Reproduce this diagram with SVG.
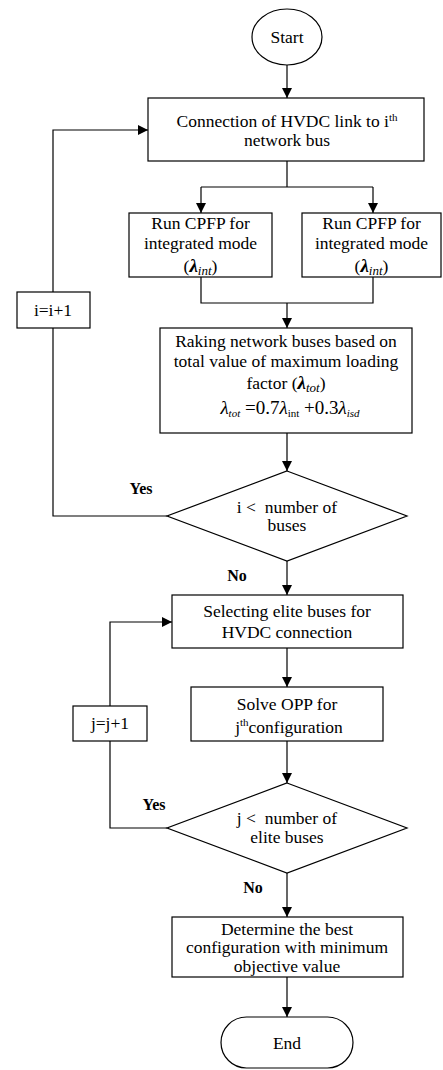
<svg xmlns="http://www.w3.org/2000/svg" width="443" height="1070" viewBox="0 0 443 1070">
<defs>
<style>
.b{fill:#fff;stroke:#000;stroke-width:1.2}
.l{fill:none;stroke:#000;stroke-width:1.2}
.t{font-family:"Liberation Serif","Times New Roman",serif;font-size:17.5px;fill:#000;text-anchor:middle}
.y{font-family:"Liberation Serif","Times New Roman",serif;font-size:16px;font-weight:bold;fill:#000;text-anchor:middle}
.s{font-size:11px}
.i{font-style:italic}
</style>
<marker id="a" viewBox="0 0 10 10" refX="10" refY="5" markerWidth="10" markerHeight="10" markerUnits="userSpaceOnUse" orient="auto">
<path d="M0,0 L10,5 L0,10 z" fill="#000"/>
</marker>
</defs>
<g id="connectors">
<path class="l" d="M287,65 V98" marker-end="url(#a)"/>
<path class="l" d="M287,161 V187 M201,187 H373"/>
<path class="l" d="M201,187 V213" marker-end="url(#a)"/>
<path class="l" d="M373,187 V213" marker-end="url(#a)"/>
<path class="l" d="M201,277 V303 H373 V277"/>
<path class="l" d="M287,303 V328" marker-end="url(#a)"/>
<path class="l" d="M287,433 V471" marker-end="url(#a)"/>
<path class="l" d="M167,516 H53 V328"/>
<path class="l" d="M53,292 V130 H148" marker-end="url(#a)"/>
<path class="l" d="M287,561 V595" marker-end="url(#a)"/>
<path class="l" d="M287,648 V687" marker-end="url(#a)"/>
<path class="l" d="M287,741 V783" marker-end="url(#a)"/>
<path class="l" d="M167,828 H110 V741"/>
<path class="l" d="M110,706 V622 H172" marker-end="url(#a)"/>
<path class="l" d="M287,873 V917" marker-end="url(#a)"/>
<path class="l" d="M287,977 V1017" marker-end="url(#a)"/>
</g>
<g id="start">
<ellipse class="b" cx="287" cy="37" rx="35" ry="28"/>
<text class="t" x="287" y="43">Start</text>
</g>
<g id="connect">
<rect class="b" x="148" y="98" width="276" height="63"/>
<text class="t" x="287" y="127">Connection of HVDC link to i<tspan class="s" dy="-6">th</tspan></text>
<text class="t" x="287" y="146">network bus</text>
</g>
<g id="cpfp1">
<rect class="b" x="129" y="213" width="143" height="64"/>
<text class="t" x="200.5" y="229">Run CPFP for</text>
<text class="t" x="200.5" y="249">integrated mode</text>
<text class="t" x="200.5" y="272">(<tspan class="i" font-weight="bold" font-size="19">λ</tspan><tspan class="i" font-size="13" dy="3">int</tspan><tspan dy="-3">)</tspan></text>
</g>
<g id="cpfp2">
<rect class="b" x="302" y="213" width="139" height="64"/>
<text class="t" x="371.5" y="229">Run CPFP for</text>
<text class="t" x="371.5" y="249">integrated mode</text>
<text class="t" x="371.5" y="272">(<tspan class="i" font-weight="bold" font-size="19">λ</tspan><tspan class="i" font-size="13" dy="3">int</tspan><tspan dy="-3">)</tspan></text>
</g>
<g id="raking">
<rect class="b" x="160" y="328" width="252" height="105"/>
<text class="t" x="286" y="347">Raking network buses based on</text>
<text class="t" x="286" y="367">total value of maximum loading</text>
<text class="t" x="286" y="389">factor (<tspan class="i" font-weight="bold" font-size="19">λ</tspan><tspan class="i" font-size="13" dy="3">tot</tspan><tspan dy="-3">)</tspan></text>
<text class="t" x="290" y="414"><tspan class="i" font-size="19">λ</tspan><tspan class="i" font-size="11" dy="3">tot</tspan><tspan dy="-3" font-size="19"> =0.7</tspan><tspan class="i" font-size="19">λ</tspan><tspan font-size="11" dy="3">int</tspan><tspan dy="-3" font-size="19"> +0.3</tspan><tspan class="i" font-size="19">λ</tspan><tspan class="i" font-size="11" dy="3">isd</tspan></text>
</g>
<g id="dec1">
<polygon class="b" points="287,471 407,516 287,561 167,516"/>
<text class="t" x="287" y="513">i &lt;&#160; number of</text>
<text class="t" x="287" y="531">buses</text>
</g>
<g id="inc-i">
<rect class="b" x="17" y="292" width="73" height="36"/>
<text class="t" x="53" y="316">i=i+1</text>
</g>
<g id="labels">
<text class="y" x="141" y="494">Yes</text>
<text class="y" x="237" y="581">No</text>
<text class="y" x="154" y="810">Yes</text>
<text class="y" x="253" y="893">No</text>
</g>
<g id="select">
<rect class="b" x="172" y="595" width="231" height="53"/>
<text class="t" x="287" y="617">Selecting elite buses for</text>
<text class="t" x="287" y="638">HVDC connection</text>
</g>
<g id="solve">
<rect class="b" x="191" y="687" width="192" height="54"/>
<text class="t" x="287" y="710">Solve OPP for</text>
<text class="t" x="289" y="733">j<tspan class="s" dy="-7">th</tspan><tspan dy="7">configuration</tspan></text>
</g>
<g id="inc-j">
<rect class="b" x="73" y="706" width="74" height="35"/>
<text class="t" x="110" y="729">j=j+1</text>
</g>
<g id="dec2">
<polygon class="b" points="287,783 407,828 287,873 167,828"/>
<text class="t" x="287" y="824">j &lt;&#160; number of</text>
<text class="t" x="287" y="843">elite buses</text>
</g>
<g id="best">
<rect class="b" x="172" y="917" width="231" height="60"/>
<text class="t" x="287" y="935">Determine the best</text>
<text class="t" x="287" y="953">configuration with minimum</text>
<text class="t" x="287" y="972">objective value</text>
</g>
<g id="end">
<rect class="b" x="221" y="1017" width="132" height="51" rx="25.5" ry="25.5"/>
<text class="t" x="287" y="1049">End</text>
</g>
</svg>
